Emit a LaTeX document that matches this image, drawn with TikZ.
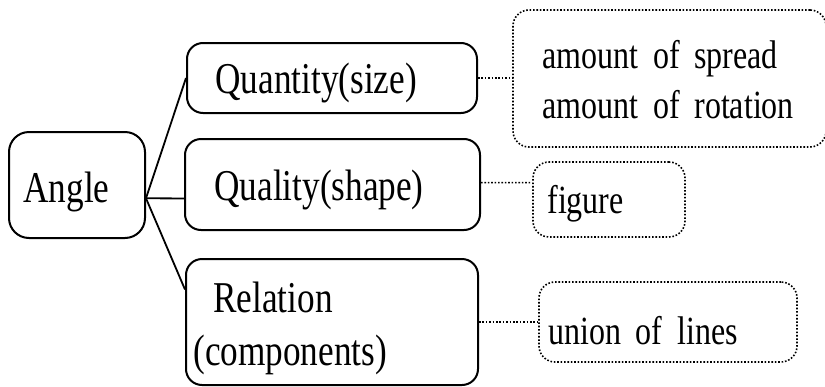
\documentclass[tikz,border=0pt]{standalone}
\usepackage{fontspec}
\setmainfont{Liberation Serif}[FakeStretch=0.8]
\usetikzlibrary{fit,calc}
\begin{document}
\begin{tikzpicture}[x=0.5pt,y=-0.5pt,
  solidbox/.style={draw, line width=1pt, rounded corners=8pt, inner sep=0pt},
  dotbox/.style={draw, line width=0.8pt, dash pattern=on 0.8pt off 0.9pt, rounded corners=8pt, inner sep=0pt},
  link/.style={line width=0.9pt},
  dotlink/.style={line width=0.8pt, dash pattern=on 0.8pt off 0.9pt},
  bigtext/.style={anchor=base west, inner sep=0pt, font=\fontsize{22pt}{26pt}\selectfont},
  smalltext/.style={anchor=base west, inner sep=0pt, font=\fontsize{20pt}{24pt}\selectfont}]
\useasboundingbox (0,0) rectangle (825,386);
% boxes
\node[solidbox, rounded corners=10pt, fit={(9,132) (145,238)}] (angle) {};
\node[solidbox, fit={(187,43) (477,113)}] (quant) {};
\node[solidbox, fit={(185,139) (480,230)}] (qual) {};
\node[solidbox, fit={(186,259) (478,385)}] (rel) {};
\node[dotbox, fit={(513,10) (826,147)}] (spread) {};
\node[dotbox, fit={(533,162) (685,237)}] (fig) {};
\node[dotbox, fit={(539,282) (797,362)}] (union) {};
% texts
\node[bigtext] (tangle) at (23,202) {Angle};
\node[bigtext] (tquant) at (215,93) {Quantity(size)};
\node[bigtext] (tqual) at (214,200) {Quality(shape)};
\node[bigtext] (trel) at (213,312) {Relation};
\node[bigtext] (tcomp) at (193,365) {(components)};
\node[smalltext] (tspread) at (542,68) {amount\, of\, spread};
\node[smalltext] (trot) at (542,118) {amount\, of\, rotation};
\node[smalltext] (tfig) at (547,213) {figure};
\node[smalltext] (tunion) at (548,344) {union\, of\, lines};
% connectors
\coordinate (hub) at ($(angle.north east)!0.623!(angle.south east)$);
\draw[link] (hub) -- (quant.west);
\draw[link] (hub) -- ($(qual.north west)!0.65!(qual.south west)$);
\draw[link] (hub) -- ($(rel.north west)!0.246!(rel.south west)$);
\draw[dotlink] (quant.east) -- (quant.east -| spread.west);
\draw[dotlink] ($(qual.north east)!0.48!(qual.south east)$) -- ($(fig.north west)!0.28!(fig.south west)$);
\draw[dotlink] (rel.east) -- (rel.east -| union.west);
\end{tikzpicture}
\end{document}
